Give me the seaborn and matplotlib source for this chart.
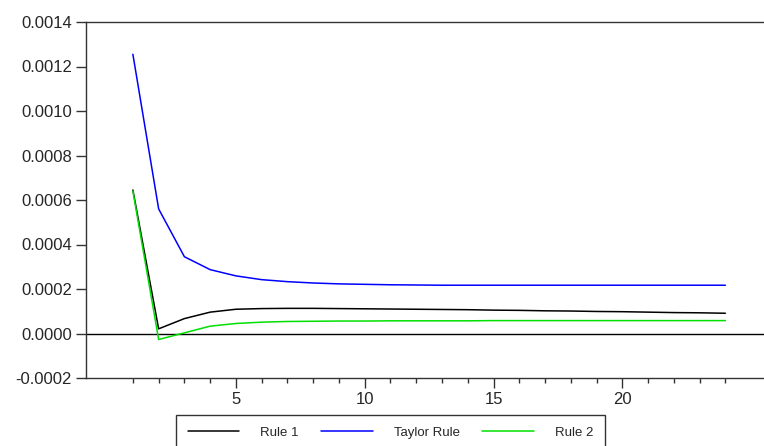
import matplotlib
matplotlib.use("Agg")
import matplotlib.pyplot as plt
import seaborn as sns
import pandas as pd
import numpy as np
from matplotlib.ticker import FixedLocator

periods = list(range(1, 25))
rule1 = [0.000645, 0.000021, 0.000067, 0.000096, 0.000109, 0.000112, 0.000113, 0.000113,
         0.000112, 0.000111, 0.000110, 0.000109, 0.000108, 0.000107, 0.000105, 0.000104,
         0.000102, 0.000101, 0.000099, 0.000098, 0.000096, 0.000094, 0.000093, 0.000091]
taylor = [0.001255, 0.000560, 0.000345, 0.000287, 0.000259, 0.000242, 0.000233, 0.000227,
          0.000223, 0.000221, 0.000219, 0.000218, 0.000217, 0.000217, 0.000217, 0.000217,
          0.000217, 0.000217, 0.000217, 0.000217, 0.000217, 0.000217, 0.000217, 0.000217]
rule2 = [0.000640, -0.000027, 0.000003, 0.000033, 0.000045, 0.000051, 0.000054, 0.000055,
         0.000056, 0.000056, 0.000057, 0.000057, 0.000057, 0.000057, 0.000058, 0.000058,
         0.000058, 0.000058, 0.000058, 0.000058, 0.000058, 0.000058, 0.000058, 0.000058]
series_names = ["Rule 1", "Taylor Rule", "Rule 2"]
colors = ["#000000", "#0000ff", "#00e000"]
ytick_vals = [-0.0002, 0.0, 0.0002, 0.0004, 0.0006, 0.0008, 0.0010, 0.0012, 0.0014]
xtick_major = [5, 10, 15, 20]

df = pd.DataFrame({
    "period": periods * 3,
    "value": rule1 + taylor + rule2,
    "series": [series_names[0]] * 24 + [series_names[1]] * 24 + [series_names[2]] * 24,
})

sns.set_style("white")
plt.rcParams["font.family"] = ["Liberation Sans", "DejaVu Sans"]

fig = plt.figure(figsize=(7.64, 4.46), dpi=100)
ax = fig.add_axes([86 / 764, 1 - 378 / 446, 1 - 86 / 764, (378 - 22) / 446])

sns.lineplot(data=df, x="period", y="value", hue="series", hue_order=series_names,
             palette=colors, linewidth=1.1, ax=ax, legend=False)
ax.axhline(0, color="black", linewidth=1.0, zorder=1)

ax.set_xlim(-0.82, 25.5)
ax.set_ylim(-0.0002, 0.0014)
ax.set_yticks(ytick_vals)
ax.set_yticklabels([f"{v:.4f}" for v in ytick_vals])
ax.xaxis.set_major_locator(FixedLocator(xtick_major))
ax.xaxis.set_minor_locator(FixedLocator([p for p in periods if p not in xtick_major]))
ax.set_xticklabels([str(v) for v in xtick_major])
ax.set_xlabel("")
ax.set_ylabel("")

for side in ["left", "bottom", "top"]:
    ax.spines[side].set_visible(True)
    ax.spines[side].set_color("#333333")
    ax.spines[side].set_linewidth(1.0)
ax.spines["right"].set_visible(False)

ax.tick_params(axis="y", which="major", direction="out", length=7, width=1, color="#333333",
               labelsize=12, left=True, pad=3)
ax.tick_params(axis="x", which="major", direction="out", length=7, width=1, color="#333333",
               labelsize=12, bottom=True, pad=3)
ax.tick_params(axis="x", which="minor", direction="out", length=3.5, width=1, color="#333333",
               bottom=True)

handles = [plt.Line2D([], [], color=c, linewidth=1.1) for c in colors]
leg = fig.legend(handles, series_names, loc="upper center", bbox_to_anchor=(390.5 / 764, 1 - 415 / 446),
                 ncol=3, fontsize=9.5, frameon=True, fancybox=False, handlelength=3.9,
                 handletextpad=1.6, columnspacing=1.7, borderpad=0.9, borderaxespad=0)
leg.get_frame().set_edgecolor("black")
leg.get_frame().set_linewidth(1.0)

fig.savefig("out.png", dpi=100)
